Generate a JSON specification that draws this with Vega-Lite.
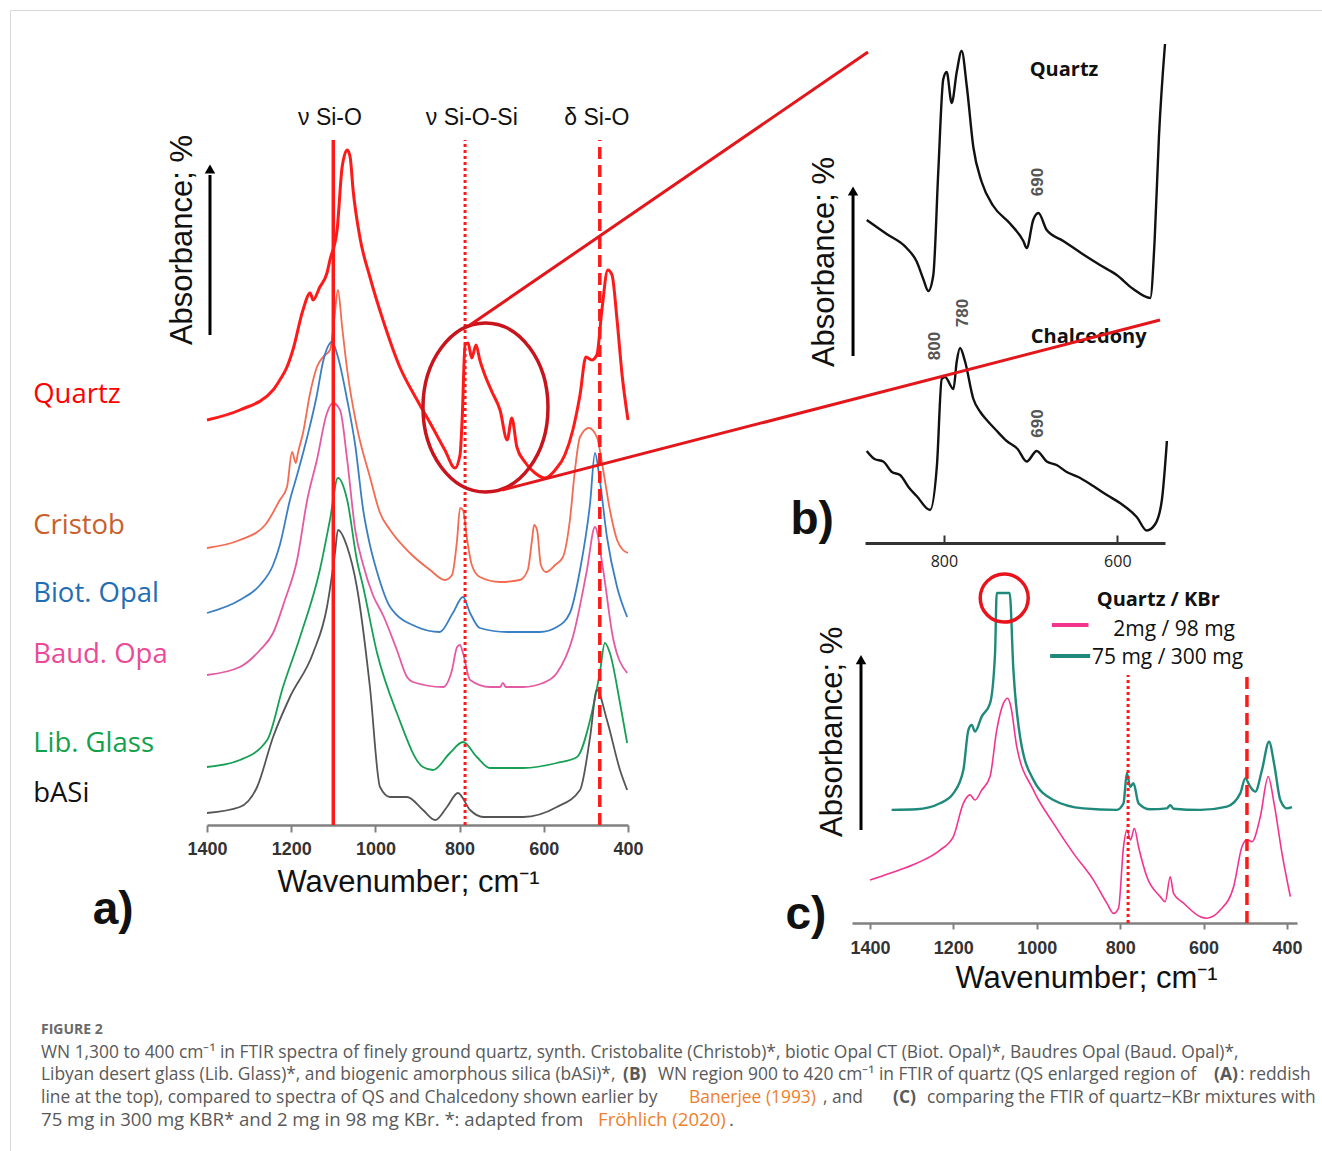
{
"$schema": "https://vega.github.io/schema/vega-lite/v6.json",
"width": 1312, "height": 1141,
"autosize": {"type": "none"},
"padding": {"left": 10, "top": 10, "right": 0, "bottom": 0},
"background": "white",
"config": {"view": {"stroke": "#d9d9d9", "strokeWidth": 1}, "axis": {"grid": false}},
"resolve": {"scale": {"x": "independent", "y": "independent", "color": "independent"}, "axis": {"x": "independent", "y": "independent"}},
"layer": [
{
"data": {"values": [
{"sample":"Cristob","wn":1400,"abs":27.7},{"sample":"Cristob","wn":1322,"abs":28.5},{"sample":"Cristob","wn":1262,"abs":30},{"sample":"Cristob","wn":1227,"abs":32.5},{"sample":"Cristob","wn":1210,"abs":33.8},{"sample":"Cristob","wn":1198,"abs":37.3},{"sample":"Cristob","wn":1189,"abs":36.2},{"sample":"Cristob","wn":1184,"abs":37.2},{"sample":"Cristob","wn":1172,"abs":39.2},{"sample":"Cristob","wn":1155,"abs":43.2},{"sample":"Cristob","wn":1139,"abs":45.8},{"sample":"Cristob","wn":1124.5,"abs":46.8},{"sample":"Cristob","wn":1108,"abs":47.5},{"sample":"Cristob","wn":1098,"abs":50.5},{"sample":"Cristob","wn":1089,"abs":53.5},{"sample":"Cristob","wn":1079,"abs":49.8},{"sample":"Cristob","wn":1067,"abs":45.5},{"sample":"Cristob","wn":1044,"abs":39.8},{"sample":"Cristob","wn":1013,"abs":34.8},{"sample":"Cristob","wn":989,"abs":31.2},{"sample":"Cristob","wn":965,"abs":29.5},{"sample":"Cristob","wn":918,"abs":27.2},{"sample":"Cristob","wn":870,"abs":25.5},{"sample":"Cristob","wn":835,"abs":24.5},{"sample":"Cristob","wn":818,"abs":25},{"sample":"Cristob","wn":806,"abs":28.5},{"sample":"Cristob","wn":799,"abs":31.7},{"sample":"Cristob","wn":792,"abs":31.5},{"sample":"Cristob","wn":782,"abs":28.5},{"sample":"Cristob","wn":771,"abs":26},{"sample":"Cristob","wn":752,"abs":24.8},{"sample":"Cristob","wn":704,"abs":24.3},{"sample":"Cristob","wn":657,"abs":24.5},{"sample":"Cristob","wn":638,"abs":25.5},{"sample":"Cristob","wn":628,"abs":28.5},{"sample":"Cristob","wn":623,"abs":30},{"sample":"Cristob","wn":616,"abs":29.5},{"sample":"Cristob","wn":607,"abs":26},{"sample":"Cristob","wn":595,"abs":25.3},{"sample":"Cristob","wn":573,"abs":26},{"sample":"Cristob","wn":554.5,"abs":26.8},{"sample":"Cristob","wn":538,"abs":30.5},{"sample":"Cristob","wn":526,"abs":35.5},{"sample":"Cristob","wn":514,"abs":38.8},{"sample":"Cristob","wn":493,"abs":39.7},{"sample":"Cristob","wn":474,"abs":38.8},{"sample":"Cristob","wn":459,"abs":35.5},{"sample":"Cristob","wn":443,"abs":31.5},{"sample":"Cristob","wn":426,"abs":28.5},{"sample":"Cristob","wn":412,"abs":27.5},{"sample":"Cristob","wn":400,"abs":27.2},
{"sample":"Biot. Opal","wn":1400,"abs":21.2},{"sample":"Biot. Opal","wn":1322,"abs":22.5},{"sample":"Biot. Opal","wn":1274,"abs":24},{"sample":"Biot. Opal","wn":1243,"abs":26},{"sample":"Biot. Opal","wn":1227,"abs":28},{"sample":"Biot. Opal","wn":1203,"abs":32.5},{"sample":"Biot. Opal","wn":1186,"abs":35},{"sample":"Biot. Opal","wn":1162,"abs":38.8},{"sample":"Biot. Opal","wn":1139,"abs":43},{"sample":"Biot. Opal","wn":1124.5,"abs":46.3},{"sample":"Biot. Opal","wn":1103,"abs":48.3},{"sample":"Biot. Opal","wn":1089,"abs":46.8},{"sample":"Biot. Opal","wn":1067,"abs":42.5},{"sample":"Biot. Opal","wn":1048,"abs":38},{"sample":"Biot. Opal","wn":1029,"abs":31.5},{"sample":"Biot. Opal","wn":1013,"abs":28},{"sample":"Biot. Opal","wn":996,"abs":25.3},{"sample":"Biot. Opal","wn":965,"abs":21.8},{"sample":"Biot. Opal","wn":901,"abs":19.8},{"sample":"Biot. Opal","wn":847,"abs":19.3},{"sample":"Biot. Opal","wn":816,"abs":21.2},{"sample":"Biot. Opal","wn":792,"abs":22.8},{"sample":"Biot. Opal","wn":775,"abs":21.2},{"sample":"Biot. Opal","wn":752,"abs":19.7},{"sample":"Biot. Opal","wn":687,"abs":19.3},{"sample":"Biot. Opal","wn":609,"abs":19.3},{"sample":"Biot. Opal","wn":569,"abs":19.8},{"sample":"Biot. Opal","wn":538,"abs":21.2},{"sample":"Biot. Opal","wn":514,"abs":25.5},{"sample":"Biot. Opal","wn":490,"abs":32.2},{"sample":"Biot. Opal","wn":478.5,"abs":37.2},{"sample":"Biot. Opal","wn":467,"abs":34.5},{"sample":"Biot. Opal","wn":450,"abs":28.8},{"sample":"Biot. Opal","wn":426,"abs":23.8},{"sample":"Biot. Opal","wn":402,"abs":20.8},
{"sample":"Baud. Opal","wn":1400,"abs":15},{"sample":"Baud. Opal","wn":1322,"abs":15.8},{"sample":"Baud. Opal","wn":1274,"abs":17.5},{"sample":"Baud. Opal","wn":1243,"abs":19.2},{"sample":"Baud. Opal","wn":1215,"abs":22.5},{"sample":"Baud. Opal","wn":1186,"abs":26.5},{"sample":"Baud. Opal","wn":1162,"abs":32.5},{"sample":"Baud. Opal","wn":1139,"abs":36.5},{"sample":"Baud. Opal","wn":1115,"abs":41.2},{"sample":"Baud. Opal","wn":1101,"abs":42.2},{"sample":"Baud. Opal","wn":1084,"abs":41.5},{"sample":"Baud. Opal","wn":1067,"abs":36.5},{"sample":"Baud. Opal","wn":1048,"abs":29.5},{"sample":"Baud. Opal","wn":1029,"abs":26},{"sample":"Baud. Opal","wn":1006,"abs":23},{"sample":"Baud. Opal","wn":982,"abs":21},{"sample":"Baud. Opal","wn":949,"abs":17.5},{"sample":"Baud. Opal","wn":925,"abs":14.8},{"sample":"Baud. Opal","wn":911,"abs":14.3},{"sample":"Baud. Opal","wn":839,"abs":13.8},{"sample":"Baud. Opal","wn":818,"abs":15.5},{"sample":"Baud. Opal","wn":806,"abs":17.8},{"sample":"Baud. Opal","wn":799,"abs":18},{"sample":"Baud. Opal","wn":792,"abs":17.2},{"sample":"Baud. Opal","wn":775,"abs":14.5},{"sample":"Baud. Opal","wn":728,"abs":13.8},{"sample":"Baud. Opal","wn":704,"abs":13.8},{"sample":"Baud. Opal","wn":697,"abs":14.2},{"sample":"Baud. Opal","wn":690,"abs":13.8},{"sample":"Baud. Opal","wn":649,"abs":13.8},{"sample":"Baud. Opal","wn":602,"abs":14.2},{"sample":"Baud. Opal","wn":569,"abs":15.2},{"sample":"Baud. Opal","wn":531,"abs":18.8},{"sample":"Baud. Opal","wn":497.5,"abs":25.5},{"sample":"Baud. Opal","wn":478.5,"abs":29.8},{"sample":"Baud. Opal","wn":459,"abs":25.5},{"sample":"Baud. Opal","wn":436,"abs":18.8},{"sample":"Baud. Opal","wn":402,"abs":15.2},
{"sample":"Lib. Glass","wn":1400,"abs":5.8},{"sample":"Lib. Glass","wn":1322,"abs":6.5},{"sample":"Lib. Glass","wn":1257,"abs":8.5},{"sample":"Lib. Glass","wn":1219.5,"abs":13.8},{"sample":"Lib. Glass","wn":1179,"abs":18.8},{"sample":"Lib. Glass","wn":1132,"abs":25.5},{"sample":"Lib. Glass","wn":1108,"abs":30.5},{"sample":"Lib. Glass","wn":1089,"abs":34.7},{"sample":"Lib. Glass","wn":1067,"abs":32.5},{"sample":"Lib. Glass","wn":1044,"abs":26.5},{"sample":"Lib. Glass","wn":1029,"abs":23.8},{"sample":"Lib. Glass","wn":996,"abs":17.2},{"sample":"Lib. Glass","wn":949,"abs":11.2},{"sample":"Lib. Glass","wn":887,"abs":5.8},{"sample":"Lib. Glass","wn":863,"abs":5.5},{"sample":"Lib. Glass","wn":823,"abs":7.2},{"sample":"Lib. Glass","wn":792,"abs":8.3},{"sample":"Lib. Glass","wn":759,"abs":6.8},{"sample":"Lib. Glass","wn":728,"abs":5.7},{"sample":"Lib. Glass","wn":649,"abs":5.7},{"sample":"Lib. Glass","wn":569,"abs":6.2},{"sample":"Lib. Glass","wn":521,"abs":6.8},{"sample":"Lib. Glass","wn":490,"abs":10.5},{"sample":"Lib. Glass","wn":467,"abs":15.2},{"sample":"Lib. Glass","wn":455,"abs":18.2},{"sample":"Lib. Glass","wn":443,"abs":17.2},{"sample":"Lib. Glass","wn":419,"abs":12.2},{"sample":"Lib. Glass","wn":402,"abs":8.2},
{"sample":"bASi","wn":1400,"abs":1.2},{"sample":"bASi","wn":1322,"abs":1.8},{"sample":"bASi","wn":1281,"abs":3.8},{"sample":"bASi","wn":1243,"abs":8.8},{"sample":"bASi","wn":1203,"abs":12.8},{"sample":"bASi","wn":1148,"abs":17.2},{"sample":"bASi","wn":1115,"abs":21.8},{"sample":"bASi","wn":1096,"abs":27.2},{"sample":"bASi","wn":1089,"abs":29.5},{"sample":"bASi","wn":1067,"abs":27.8},{"sample":"bASi","wn":1044,"abs":23.8},{"sample":"bASi","wn":1013,"abs":13.8},{"sample":"bASi","wn":989,"abs":3.8},{"sample":"bASi","wn":965,"abs":2.8},{"sample":"bASi","wn":925,"abs":2.8},{"sample":"bASi","wn":887,"abs":1.5},{"sample":"bASi","wn":858,"abs":0.5},{"sample":"bASi","wn":830,"abs":1.8},{"sample":"bASi","wn":804,"abs":3.2},{"sample":"bASi","wn":775,"abs":1.5},{"sample":"bASi","wn":744,"abs":0.8},{"sample":"bASi","wn":649,"abs":0.8},{"sample":"bASi","wn":569,"abs":1.8},{"sample":"bASi","wn":514,"abs":3.5},{"sample":"bASi","wn":490,"abs":8.8},{"sample":"bASi","wn":474,"abs":13.5},{"sample":"bASi","wn":450,"abs":10.5},{"sample":"bASi","wn":419,"abs":5.5},{"sample":"bASi","wn":402,"abs":3.5}
]},
"mark": {"type": "line", "strokeWidth": 1.8, "interpolate": "monotone"},
"encoding": {
"x": {"field": "wn", "type": "quantitative", "scale": {"domain": [1400, 400], "range": [197, 618], "nice": false, "zero": false},
 "axis": {"orient": "bottom", "offset": -326, "values": [1400, 1200, 1000, 800, 600, 400], "format": "d", "domainColor": "#808080", "domainWidth": 2.5, "tickColor": "#808080", "tickWidth": 2, "tickSize": 7, "labelFont": "Liberation Sans", "labelFontSize": 18, "labelFontWeight": "bold", "labelColor": "#333333", "labelPadding": 8, "labelFlush": false, "labelOverlap": false, "grid": false, "title": "Wavenumber; cm⁻¹", "titleFont": "Liberation Sans", "titleFontSize": 31, "titleFontWeight": "normal", "titleColor": "#111111", "titleX": 398, "titleY": 66, "titleBaseline": "alphabetic", "titleAlign": "center"}},
"y": {"field": "abs", "type": "quantitative", "scale": {"domain": [0, 70], "range": [815, 115], "nice": false, "zero": false}, "axis": null},
"color": {"field": "sample", "type": "nominal", "scale": {"domain": ["Cristob", "Biot. Opal", "Baud. Opal", "Lib. Glass", "bASi"], "range": ["#f36b50", "#3a7fc4", "#e45aa3", "#17a055", "#555555"]}, "legend": null}
}
},
{
"data": {"values": [
{"wn":1400,"abs":40.5},{"wn":1322,"abs":41.5},{"wn":1243,"abs":43.5},{"wn":1227,"abs":44.5},{"wn":1210,"abs":45.8},{"wn":1196,"abs":47.5},{"wn":1172,"abs":51.5},{"wn":1155,"abs":53.2},{"wn":1148,"abs":52.5},{"wn":1132,"abs":53.8},{"wn":1115,"abs":55.2},{"wn":1108,"abs":56.5},{"wn":1091,"abs":59.5},{"wn":1079,"abs":65.8},{"wn":1067,"abs":67.5},{"wn":1060,"abs":66.8},{"wn":1053,"abs":63.5},{"wn":1037,"abs":58.8},{"wn":1013,"abs":54.8},{"wn":982,"abs":50.5},{"wn":942,"abs":45.8},{"wn":901,"abs":42.5},{"wn":870,"abs":40.2},{"wn":835,"abs":37.5},{"wn":811,"abs":35.7},{"wn":799,"abs":37},{"wn":794,"abs":40.5},{"wn":787,"abs":48},{"wn":780,"abs":48.2},{"wn":771,"abs":46.7},{"wn":761,"abs":48},{"wn":752,"abs":46.5},{"wn":740,"abs":45},{"wn":723,"abs":43.3},{"wn":704,"abs":41.5},{"wn":687,"abs":38.5},{"wn":676,"abs":40.7},{"wn":664,"abs":37.8},{"wn":645,"abs":36.3},{"wn":621,"abs":35.2},{"wn":597,"abs":34.7},{"wn":573,"abs":35.5},{"wn":550,"abs":37},{"wn":531,"abs":39.5},{"wn":514,"abs":43},{"wn":500,"abs":46.8},{"wn":486,"abs":46.5},{"wn":474,"abs":47},{"wn":462,"abs":51.5},{"wn":448,"abs":55.5},{"wn":438,"abs":55},{"wn":426,"abs":50.5},{"wn":414,"abs":45},{"wn":400,"abs":40.5}
]},
"mark": {"type": "line", "strokeWidth": 3, "color": "#ff1a1a", "interpolate": "monotone"},
"encoding": {
"x": {"field": "wn", "type": "quantitative", "scale": {"domain": [1400, 400], "range": [197, 618], "nice": false, "zero": false}, "axis": null},
"y": {"field": "abs", "type": "quantitative", "scale": {"domain": [0, 70], "range": [815, 115], "nice": false, "zero": false}, "axis": null}
}
},
{
"data": {"values": [{"band": "ν Si-O", "wn": 1100}]},
"mark": {"type": "rule", "color": "#ff1a1a", "strokeWidth": 3.5},
"encoding": {
"x": {"field": "wn", "type": "quantitative", "scale": {"domain": [1400, 400], "range": [197, 618], "nice": false, "zero": false}, "axis": null},
"y": {"datum": 0, "type": "quantitative", "scale": {"domain": [0, 70], "range": [815, 115], "nice": false, "zero": false}, "axis": null},
"y2": {"datum": 68.5}
}
},
{
"data": {"values": [{"band": "ν Si-O-Si", "wn": 787}]},
"mark": {"type": "rule", "color": "#ff1a1a", "strokeWidth": 3, "strokeDash": [3, 3]},
"encoding": {
"x": {"field": "wn", "type": "quantitative", "scale": {"domain": [1400, 400], "range": [197, 618], "nice": false, "zero": false}, "axis": null},
"y": {"datum": 0, "type": "quantitative", "scale": {"domain": [0, 70], "range": [815, 115], "nice": false, "zero": false}, "axis": null},
"y2": {"datum": 68.5}
}
},
{
"data": {"values": [{"band": "δ Si-O", "wn": 467}]},
"mark": {"type": "rule", "color": "#ff1a1a", "strokeWidth": 3.5, "strokeDash": [12, 6]},
"encoding": {
"x": {"field": "wn", "type": "quantitative", "scale": {"domain": [1400, 400], "range": [197, 618], "nice": false, "zero": false}, "axis": null},
"y": {"datum": 0, "type": "quantitative", "scale": {"domain": [0, 70], "range": [815, 115], "nice": false, "zero": false}, "axis": null},
"y2": {"datum": 68.5}
}
},
{
"data": {"values": [{"band": "ν Si-O", "wn": 1108, "abs": 70.7}, {"band": "ν Si-O-Si", "wn": 771, "abs": 70.7}, {"band": "δ Si-O", "wn": 474, "abs": 70.7}]},
"mark": {"type": "text", "font": "Liberation Sans", "fontSize": 23, "color": "#111111", "align": "center", "baseline": "middle"},
"encoding": {
"x": {"field": "wn", "type": "quantitative", "scale": {"domain": [1400, 400], "range": [197, 618], "nice": false, "zero": false}, "axis": null},
"y": {"field": "abs", "type": "quantitative", "scale": {"domain": [0, 70], "range": [815, 115], "nice": false, "zero": false}, "axis": null},
"text": {"field": "band"}
}
},
{
"data": {"values": [{"region": "quartz 900-420", "wn": 738.5, "abs": 41.75}]},
"mark": {"type": "point", "shape": "M-1,0A1,1.352,0,1,0,1,0A1,1.352,0,1,0,-1,0Z", "size": 15625, "filled": false, "stroke": "#c8141c", "strokeWidth": 3.5, "opacity": 1},
"encoding": {
"x": {"field": "wn", "type": "quantitative", "scale": {"domain": [1400, 400], "range": [197, 618], "nice": false, "zero": false}, "axis": null},
"y": {"field": "abs", "type": "quantitative", "scale": {"domain": [0, 70], "range": [815, 115], "nice": false, "zero": false}, "axis": null}
}
},
{
"data": {"values": [{"label": "Quartz", "wn": 1813, "abs": 43}, {"label": "Cristob", "wn": 1813, "abs": 29.9}, {"label": "Biot. Opal", "wn": 1813, "abs": 23.1}, {"label": "Baud. Opa", "wn": 1813, "abs": 17}, {"label": "Lib. Glass", "wn": 1813, "abs": 8.1}, {"label": "bASi", "wn": 1813, "abs": 3.1}]},
"mark": {"type": "text", "font": "Open Sans", "fontSize": 27.5, "align": "left", "baseline": "middle"},
"encoding": {
"x": {"field": "wn", "type": "quantitative", "scale": {"domain": [1400, 400], "range": [197, 618], "nice": false, "zero": false}, "axis": null},
"y": {"field": "abs", "type": "quantitative", "scale": {"domain": [0, 70], "range": [815, 115], "nice": false, "zero": false}, "axis": null},
"text": {"field": "label"},
"color": {"field": "label", "type": "nominal", "scale": {"domain": ["Quartz", "Cristob", "Biot. Opal", "Baud. Opa", "Lib. Glass", "bASi"], "range": ["#ff0000", "#c8602c", "#1f6db3", "#ea4a97", "#12a14b", "#111111"]}, "legend": null}
}
},
{
"data": {"values": [{"label": "Absorbance; %", "wn": 1457, "abs": 58.5}]},
"mark": {"type": "text", "font": "Liberation Sans", "fontSize": 31, "angle": 270, "align": "center", "baseline": "middle", "color": "#111111"},
"encoding": {
"x": {"field": "wn", "type": "quantitative", "scale": {"domain": [1400, 400], "range": [197, 618], "nice": false, "zero": false}, "axis": null},
"y": {"field": "abs", "type": "quantitative", "scale": {"domain": [0, 70], "range": [815, 115], "nice": false, "zero": false}, "axis": null},
"text": {"field": "label"}
}
},
{
"data": {"values": [{"label": "a)", "wn": 1623, "abs": -8.5}]},
"mark": {"type": "text", "font": "Liberation Sans", "fontSize": 46, "fontWeight": "bold", "align": "center", "baseline": "middle", "color": "#111111"},
"encoding": {
"x": {"field": "wn", "type": "quantitative", "scale": {"domain": [1400, 400], "range": [197, 618], "nice": false, "zero": false}, "axis": null},
"y": {"field": "abs", "type": "quantitative", "scale": {"domain": [0, 70], "range": [815, 115], "nice": false, "zero": false}, "axis": null},
"text": {"field": "label"}
}
},
{
"data": {"values": [{"wn": 1392.9, "abs": 49, "abs2": 65}]},
"mark": {"type": "rule", "color": "#000000", "strokeWidth": 3},
"encoding": {
"x": {"field": "wn", "type": "quantitative", "scale": {"domain": [1400, 400], "range": [197, 618], "nice": false, "zero": false}, "axis": null},
"y": {"field": "abs", "type": "quantitative", "scale": {"domain": [0, 70], "range": [815, 115], "nice": false, "zero": false}, "axis": null},
"y2": {"field": "abs2"}
}
},
{
"data": {"values": [{"wn": 1392.9, "abs": 65.6}]},
"mark": {"type": "point", "shape": "triangle-up", "size": 110, "filled": true, "color": "#000000", "opacity": 1},
"encoding": {
"x": {"field": "wn", "type": "quantitative", "scale": {"domain": [1400, 400], "range": [197, 618], "nice": false, "zero": false}, "axis": null},
"y": {"field": "abs", "type": "quantitative", "scale": {"domain": [0, 70], "range": [815, 115], "nice": false, "zero": false}, "axis": null}
}
},
{
"data": {"values": [
{"sample":"Quartz","wn":889,"abs":64.6},{"sample":"Quartz","wn":866,"abs":61.8},{"sample":"Quartz","wn":843,"abs":59},{"sample":"Quartz","wn":831.4,"abs":56.3},{"sample":"Quartz","wn":823.8,"abs":52.8},{"sample":"Quartz","wn":818,"abs":50.4},{"sample":"Quartz","wn":812.2,"abs":53.6},{"sample":"Quartz","wn":806.5,"abs":74.2},{"sample":"Quartz","wn":800.7,"abs":92.8},{"sample":"Quartz","wn":796.8,"abs":94.2},{"sample":"Quartz","wn":791,"abs":88},{"sample":"Quartz","wn":785.2,"abs":94.2},{"sample":"Quartz","wn":779.5,"abs":98.4},{"sample":"Quartz","wn":773.7,"abs":91.5},{"sample":"Quartz","wn":766,"abs":79.1},{"sample":"Quartz","wn":756.4,"abs":72.2},{"sample":"Quartz","wn":743,"abs":67.4},{"sample":"Quartz","wn":723.8,"abs":63.9},{"sample":"Quartz","wn":708.4,"abs":60.4},{"sample":"Quartz","wn":704.5,"abs":59},{"sample":"Quartz","wn":697,"abs":64.6},{"sample":"Quartz","wn":691,"abs":66},{"sample":"Quartz","wn":681.4,"abs":62.6},{"sample":"Quartz","wn":662.3,"abs":60.4},{"sample":"Quartz","wn":639.2,"abs":57.7},{"sample":"Quartz","wn":620,"abs":55.6},{"sample":"Quartz","wn":600.7,"abs":53.6},{"sample":"Quartz","wn":581.6,"abs":50.8},{"sample":"Quartz","wn":562,"abs":49},{"sample":"Quartz","wn":557,"abs":60.4},{"sample":"Quartz","wn":552,"abs":81.2},{"sample":"Quartz","wn":545,"abs":99.8},
{"sample":"Chalcedony","wn":889,"abs":18.4},{"sample":"Chalcedony","wn":880,"abs":16.8},{"sample":"Chalcedony","wn":870,"abs":16.3},{"sample":"Chalcedony","wn":860,"abs":14.2},{"sample":"Chalcedony","wn":850.6,"abs":13.6},{"sample":"Chalcedony","wn":840,"abs":11},{"sample":"Chalcedony","wn":831.4,"abs":9.4},{"sample":"Chalcedony","wn":816,"abs":6.6},{"sample":"Chalcedony","wn":808,"abs":15.6},{"sample":"Chalcedony","wn":802.5,"abs":32.8},{"sample":"Chalcedony","wn":798.7,"abs":33.2},{"sample":"Chalcedony","wn":789,"abs":30.8},{"sample":"Chalcedony","wn":785.2,"abs":36.3},{"sample":"Chalcedony","wn":781.4,"abs":39},{"sample":"Chalcedony","wn":775.6,"abs":36.3},{"sample":"Chalcedony","wn":766,"abs":28.8},{"sample":"Chalcedony","wn":758,"abs":26.2},{"sample":"Chalcedony","wn":750.6,"abs":24.6},{"sample":"Chalcedony","wn":740,"abs":22.6},{"sample":"Chalcedony","wn":727.6,"abs":20.4},{"sample":"Chalcedony","wn":715,"abs":18.8},{"sample":"Chalcedony","wn":704.5,"abs":16.3},{"sample":"Chalcedony","wn":693,"abs":18.4},{"sample":"Chalcedony","wn":681.4,"abs":16.3},{"sample":"Chalcedony","wn":670,"abs":15.6},{"sample":"Chalcedony","wn":658.4,"abs":14.2},{"sample":"Chalcedony","wn":645,"abs":13.2},{"sample":"Chalcedony","wn":627.7,"abs":11.4},{"sample":"Chalcedony","wn":612,"abs":9.6},{"sample":"Chalcedony","wn":597,"abs":8},{"sample":"Chalcedony","wn":577.6,"abs":5.2},{"sample":"Chalcedony","wn":566,"abs":2.5},{"sample":"Chalcedony","wn":556.2,"abs":3.8},{"sample":"Chalcedony","wn":548.6,"abs":8.6},{"sample":"Chalcedony","wn":542.8,"abs":20.4}
]},
"mark": {"type": "line", "strokeWidth": 2.4, "color": "#111111", "interpolate": "monotone"},
"encoding": {
"x": {"field": "wn", "type": "quantitative", "scale": {"domain": [891, 545], "range": [855, 1155], "nice": false, "zero": false},
 "axis": {"orient": "bottom", "offset": -608, "values": [800, 600], "format": "d", "domainColor": "#333333", "domainWidth": 3, "tickColor": "#333333", "tickWidth": 2, "tickSize": -8, "labelFont": "Open Sans", "labelFontSize": 16, "labelColor": "#222222", "labelPadding": 18, "labelFlush": false, "grid": false, "title": null}},
"y": {"field": "abs", "type": "quantitative", "scale": {"domain": [0, 100], "range": [533, 33], "nice": false, "zero": false}, "axis": null},
"detail": {"field": "sample"}
}
},
{
"data": {"values": [{"label": "Quartz", "wn": 661.5, "abs": 94.6}, {"label": "Chalcedony", "wn": 633, "abs": 41.2}]},
"mark": {"type": "text", "font": "Open Sans", "fontSize": 20, "fontWeight": "bold", "align": "center", "baseline": "middle", "color": "#111111"},
"encoding": {
"x": {"field": "wn", "type": "quantitative", "scale": {"domain": [891, 545], "range": [855, 1155], "nice": false, "zero": false}, "axis": null},
"y": {"field": "abs", "type": "quantitative", "scale": {"domain": [0, 100], "range": [533, 33], "nice": false, "zero": false}, "axis": null},
"text": {"field": "label"}
}
},
{
"data": {"values": [{"peak": "690", "wn": 691, "abs": 72.2}, {"peak": "800", "wn": 810.3, "abs": 39.4}, {"peak": "780", "wn": 777.6, "abs": 46}, {"peak": "690", "wn": 691, "abs": 23.9}]},
"mark": {"type": "text", "font": "Liberation Sans", "fontSize": 17, "fontWeight": "bold", "angle": 270, "align": "center", "baseline": "middle", "color": "#555555"},
"encoding": {
"x": {"field": "wn", "type": "quantitative", "scale": {"domain": [891, 545], "range": [855, 1155], "nice": false, "zero": false}, "axis": null},
"y": {"field": "abs", "type": "quantitative", "scale": {"domain": [0, 100], "range": [533, 33], "nice": false, "zero": false}, "axis": null},
"text": {"field": "peak"}
}
},
{
"data": {"values": [{"label": "Absorbance; %", "wn": 937.1, "abs": 56.2}]},
"mark": {"type": "text", "font": "Liberation Sans", "fontSize": 31, "angle": 270, "align": "center", "baseline": "middle", "color": "#111111"},
"encoding": {
"x": {"field": "wn", "type": "quantitative", "scale": {"domain": [891, 545], "range": [855, 1155], "nice": false, "zero": false}, "axis": null},
"y": {"field": "abs", "type": "quantitative", "scale": {"domain": [0, 100], "range": [533, 33], "nice": false, "zero": false}, "axis": null},
"text": {"field": "label"}
}
},
{
"data": {"values": [{"label": "b)", "wn": 952, "abs": 4.6}]},
"mark": {"type": "text", "font": "Liberation Sans", "fontSize": 46, "fontWeight": "bold", "align": "center", "baseline": "middle", "color": "#111111"},
"encoding": {
"x": {"field": "wn", "type": "quantitative", "scale": {"domain": [891, 545], "range": [855, 1155], "nice": false, "zero": false}, "axis": null},
"y": {"field": "abs", "type": "quantitative", "scale": {"domain": [0, 100], "range": [533, 33], "nice": false, "zero": false}, "axis": null},
"text": {"field": "label"}
}
},
{
"data": {"values": [{"wn": 904.8, "abs": 37.4, "abs2": 70}]},
"mark": {"type": "rule", "color": "#000000", "strokeWidth": 3},
"encoding": {
"x": {"field": "wn", "type": "quantitative", "scale": {"domain": [891, 545], "range": [855, 1155], "nice": false, "zero": false}, "axis": null},
"y": {"field": "abs", "type": "quantitative", "scale": {"domain": [0, 100], "range": [533, 33], "nice": false, "zero": false}, "axis": null},
"y2": {"field": "abs2"}
}
},
{
"data": {"values": [{"wn": 904.8, "abs": 70.4}]},
"mark": {"type": "point", "shape": "triangle-up", "size": 110, "filled": true, "color": "#000000", "opacity": 1},
"encoding": {
"x": {"field": "wn", "type": "quantitative", "scale": {"domain": [891, 545], "range": [855, 1155], "nice": false, "zero": false}, "axis": null},
"y": {"field": "abs", "type": "quantitative", "scale": {"domain": [0, 100], "range": [533, 33], "nice": false, "zero": false}, "axis": null}
}
},
{
"data": {"values": [
{"wn":1348,"abs":37.7},{"wn":1288,"abs":37.9},{"wn":1232,"abs":39.9},{"wn":1200,"abs":43.2},{"wn":1176,"abs":51},{"wn":1164,"abs":64.3},{"wn":1156,"abs":66},{"wn":1148,"abs":63.8},{"wn":1132,"abs":68.8},{"wn":1112,"abs":73.2},{"wn":1100,"abs":89.9},{"wn":1096,"abs":110},{"wn":1065,"abs":110},{"wn":1056,"abs":84.3},{"wn":1040,"abs":62.1},{"wn":1008,"abs":47.7},{"wn":960,"abs":41},{"wn":888,"abs":38.2},{"wn":808,"abs":37.7},{"wn":792,"abs":39.9},{"wn":784,"abs":49.9},{"wn":776,"abs":45.4},{"wn":768,"abs":46.6},{"wn":756,"abs":39.9},{"wn":728,"abs":37.9},{"wn":688,"abs":38.2},{"wn":680,"abs":39.3},{"wn":672,"abs":38.1},{"wn":608,"abs":37.7},{"wn":544,"abs":38.8},{"wn":512,"abs":43.2},{"wn":500,"abs":48.2},{"wn":488,"abs":45.4},{"wn":476,"abs":43.8},{"wn":460,"abs":51},{"wn":443,"abs":60.4},{"wn":431,"abs":53.2},{"wn":416,"abs":41},{"wn":400,"abs":38.2},{"wn":388,"abs":38.6}
]},
"mark": {"type": "line", "strokeWidth": 2.4, "color": "#1f8a7b", "interpolate": "monotone"},
"encoding": {
"x": {"field": "wn", "type": "quantitative", "scale": {"domain": [1443, 376], "range": [842, 1287], "nice": false, "zero": false},
 "axis": {"orient": "bottom", "offset": -228, "values": [1400, 1200, 1000, 800, 600, 400], "format": "d", "domainColor": "#808080", "domainWidth": 2.5, "tickColor": "#808080", "tickWidth": 2, "tickSize": 6, "labelFont": "Liberation Sans", "labelFontSize": 18, "labelFontWeight": "bold", "labelColor": "#333333", "labelPadding": 10, "labelFlush": false, "labelOverlap": false, "grid": false, "title": "Wavenumber; cm⁻¹", "titleFont": "Liberation Sans", "titleFontSize": 31, "titleFontWeight": "normal", "titleColor": "#111111", "titleX": 1076, "titleY": 64, "titleBaseline": "alphabetic", "titleAlign": "center"}},
"y": {"field": "abs", "type": "quantitative", "scale": {"domain": [0, 110], "range": [913, 583], "nice": false, "zero": false}, "axis": null}
}
},
{
"data": {"values": [
{"wn":1400,"abs":14.3},{"wn":1352,"abs":16.6},{"wn":1288,"abs":19.9},{"wn":1232,"abs":24.3},{"wn":1200,"abs":28.8},{"wn":1176,"abs":39.9},{"wn":1160,"abs":42.7},{"wn":1148,"abs":41},{"wn":1132,"abs":44.3},{"wn":1112,"abs":48.8},{"wn":1096,"abs":64.3},{"wn":1080,"abs":73.2},{"wn":1070,"abs":74.9},{"wn":1062,"abs":72.1},{"wn":1048,"abs":58.8},{"wn":1008,"abs":44.3},{"wn":960,"abs":33.2},{"wn":912,"abs":23.2},{"wn":864,"abs":14.3},{"wn":832,"abs":6.6},{"wn":816,"abs":3.2},{"wn":804,"abs":4.9},{"wn":792,"abs":25.4},{"wn":784,"abs":31},{"wn":775,"abs":27.7},{"wn":766,"abs":31.6},{"wn":756,"abs":25.4},{"wn":736,"abs":15.4},{"wn":704,"abs":8.8},{"wn":692,"abs":7.1},{"wn":680,"abs":15.4},{"wn":672,"abs":9.9},{"wn":648,"abs":6.6},{"wn":608,"abs":2.1},{"wn":592,"abs":1.6},{"wn":560,"abs":4.3},{"wn":528,"abs":12.1},{"wn":508,"abs":25.4},{"wn":496,"abs":27.7},{"wn":484,"abs":27.1},{"wn":464,"abs":35.4},{"wn":445,"abs":48.8},{"wn":431,"abs":39.9},{"wn":412,"abs":23.2},{"wn":392,"abs":8.8}
]},
"mark": {"type": "line", "strokeWidth": 1.6, "color": "#f2348f", "interpolate": "monotone"},
"encoding": {
"x": {"field": "wn", "type": "quantitative", "scale": {"domain": [1443, 376], "range": [842, 1287], "nice": false, "zero": false}, "axis": null},
"y": {"field": "abs", "type": "quantitative", "scale": {"domain": [0, 110], "range": [913, 583], "nice": false, "zero": false}, "axis": null}
}
},
{
"data": {"values": [{"band": "ν Si-O-Si", "wn": 781}]},
"mark": {"type": "rule", "color": "#ff1a1a", "strokeWidth": 3, "strokeDash": [3, 3]},
"encoding": {
"x": {"field": "wn", "type": "quantitative", "scale": {"domain": [1443, 376], "range": [842, 1287], "nice": false, "zero": false}, "axis": null},
"y": {"datum": 0, "type": "quantitative", "scale": {"domain": [0, 110], "range": [913, 583], "nice": false, "zero": false}, "axis": null},
"y2": {"datum": 82.7}
}
},
{
"data": {"values": [{"band": "δ Si-O", "wn": 496}]},
"mark": {"type": "rule", "color": "#ff1a1a", "strokeWidth": 3.5, "strokeDash": [12, 6]},
"encoding": {
"x": {"field": "wn", "type": "quantitative", "scale": {"domain": [1443, 376], "range": [842, 1287], "nice": false, "zero": false}, "axis": null},
"y": {"datum": 0, "type": "quantitative", "scale": {"domain": [0, 110], "range": [913, 583], "nice": false, "zero": false}, "axis": null},
"y2": {"datum": 82.7}
}
},
{
"data": {"values": [{"region": "saturated peak", "wn": 1078, "abs": 108.3}]},
"mark": {"type": "point", "shape": "circle", "size": 2304, "filled": false, "stroke": "#e8141c", "strokeWidth": 3.5, "opacity": 1},
"encoding": {
"x": {"field": "wn", "type": "quantitative", "scale": {"domain": [1443, 376], "range": [842, 1287], "nice": false, "zero": false}, "axis": null},
"y": {"field": "abs", "type": "quantitative", "scale": {"domain": [0, 110], "range": [913, 583], "nice": false, "zero": false}, "axis": null}
}
},
{
"data": {"values": [{"series": "2mg / 98 mg", "wn": 963.7, "wn2": 875.9, "abs": 99.3}, {"series": "75 mg / 300 mg", "wn": 968, "wn2": 872, "abs": 89}]},
"mark": {"type": "rule", "strokeWidth": 4},
"encoding": {
"x": {"field": "wn", "type": "quantitative", "scale": {"domain": [1443, 376], "range": [842, 1287], "nice": false, "zero": false}, "axis": null},
"x2": {"field": "wn2"},
"y": {"field": "abs", "type": "quantitative", "scale": {"domain": [0, 110], "range": [913, 583], "nice": false, "zero": false}, "axis": null},
"color": {"field": "series", "type": "nominal", "scale": {"domain": ["2mg / 98 mg", "75 mg / 300 mg"], "range": ["#f2348f", "#1f8a7b"]}, "legend": null}
}
},
{
"data": {"values": [{"series": "2mg / 98 mg", "wn": 816.6, "abs": 97.7}, {"series": "75 mg / 300 mg", "wn": 867.7, "abs": 88.3}]},
"mark": {"type": "text", "font": "Open Sans", "fontSize": 21, "align": "left", "baseline": "middle", "color": "#111111"},
"encoding": {
"x": {"field": "wn", "type": "quantitative", "scale": {"domain": [1443, 376], "range": [842, 1287], "nice": false, "zero": false}, "axis": null},
"y": {"field": "abs", "type": "quantitative", "scale": {"domain": [0, 110], "range": [913, 583], "nice": false, "zero": false}, "axis": null},
"text": {"field": "series"}
}
},
{
"data": {"values": [{"label": "Quartz / KBr", "wn": 708.6, "abs": 107.7}]},
"mark": {"type": "text", "font": "Open Sans", "fontSize": 20, "fontWeight": "bold", "align": "center", "baseline": "middle", "color": "#111111"},
"encoding": {
"x": {"field": "wn", "type": "quantitative", "scale": {"domain": [1443, 376], "range": [842, 1287], "nice": false, "zero": false}, "axis": null},
"y": {"field": "abs", "type": "quantitative", "scale": {"domain": [0, 110], "range": [913, 583], "nice": false, "zero": false}, "axis": null},
"text": {"field": "label"}
}
},
{
"data": {"values": [{"label": "Absorbance; %", "wn": 1488.6, "abs": 63.7}]},
"mark": {"type": "text", "font": "Liberation Sans", "fontSize": 31, "angle": 270, "align": "center", "baseline": "middle", "color": "#111111"},
"encoding": {
"x": {"field": "wn", "type": "quantitative", "scale": {"domain": [1443, 376], "range": [842, 1287], "nice": false, "zero": false}, "axis": null},
"y": {"field": "abs", "type": "quantitative", "scale": {"domain": [0, 110], "range": [913, 583], "nice": false, "zero": false}, "axis": null},
"text": {"field": "label"}
}
},
{
"data": {"values": [{"label": "c)", "wn": 1553.4, "abs": 2.7}]},
"mark": {"type": "text", "font": "Liberation Sans", "fontSize": 46, "fontWeight": "bold", "align": "center", "baseline": "middle", "color": "#111111"},
"encoding": {
"x": {"field": "wn", "type": "quantitative", "scale": {"domain": [1443, 376], "range": [842, 1287], "nice": false, "zero": false}, "axis": null},
"y": {"field": "abs", "type": "quantitative", "scale": {"domain": [0, 110], "range": [913, 583], "nice": false, "zero": false}, "axis": null},
"text": {"field": "label"}
}
},
{
"data": {"values": [{"wn": 1421.4, "abs": 31, "abs2": 86.5}]},
"mark": {"type": "rule", "color": "#000000", "strokeWidth": 3},
"encoding": {
"x": {"field": "wn", "type": "quantitative", "scale": {"domain": [1443, 376], "range": [842, 1287], "nice": false, "zero": false}, "axis": null},
"y": {"field": "abs", "type": "quantitative", "scale": {"domain": [0, 110], "range": [913, 583], "nice": false, "zero": false}, "axis": null},
"y2": {"field": "abs2"}
}
},
{
"data": {"values": [{"wn": 1421.4, "abs": 87.8}]},
"mark": {"type": "point", "shape": "triangle-up", "size": 110, "filled": true, "color": "#000000", "opacity": 1},
"encoding": {
"x": {"field": "wn", "type": "quantitative", "scale": {"domain": [1443, 376], "range": [842, 1287], "nice": false, "zero": false}, "axis": null},
"y": {"field": "abs", "type": "quantitative", "scale": {"domain": [0, 110], "range": [913, 583], "nice": false, "zero": false}, "axis": null}
}
},
{
"data": {"values": [{"wn": 775.3, "abs": 50, "wn2": -170.1, "abs2": 77.3}, {"wn": 699.3, "abs": 33.5, "wn2": -863.7, "abs2": 50.5}]},
"mark": {"type": "rule", "color": "#e3161b", "strokeWidth": 3},
"encoding": {
"x": {"field": "wn", "type": "quantitative", "scale": {"domain": [1400, 400], "range": [197, 618], "nice": false, "zero": false}, "axis": null},
"y": {"field": "abs", "type": "quantitative", "scale": {"domain": [0, 70], "range": [815, 115], "nice": false, "zero": false}, "axis": null},
"x2": {"field": "wn2"},
"y2": {"field": "abs2"}
}
},
{
"data": {"values": [{"t": "FIGURE 2", "line": 0, "pos": 0}]},
"mark": {"type": "text", "font": "Open Sans", "fontSize": 14, "fontWeight": "bold", "align": "left", "baseline": "middle", "color": "#6a6a6a"},
"encoding": {
"x": {"field": "pos", "type": "quantitative", "scale": {"domain": [0, 100], "range": [31, 1291], "nice": false, "zero": false}, "axis": null},
"y": {"field": "line", "type": "ordinal", "scale": {"type": "point", "domain": [0, 1, 2, 3, 4], "range": [1020, 1110], "padding": 0}, "axis": null},
"text": {"field": "t"}
}
},
{
"data": {"values": [
{"t": "WN 1,300 to 400 cm⁻¹ in FTIR spectra of finely ground quartz, synth. Cristobalite (Christob)*, biotic Opal CT (Biot. Opal)*, Baudres Opal (Baud. Opal)*,", "line": 1, "pos": 0},
{"t": "Libyan desert glass (Lib. Glass)*, and biogenic amorphous silica (bASi)*,", "line": 2, "pos": 0},
{"t": "WN region 900 to 420 cm⁻¹ in FTIR of quartz (QS enlarged region of", "line": 2, "pos": 48.97},
{"t": ": reddish", "line": 2, "pos": 95.16},
{"t": "line at the top), compared to spectra of QS and Chalcedony shown earlier by", "line": 3, "pos": 0},
{"t": ", and", "line": 3, "pos": 62.06},
{"t": "comparing the FTIR of quartz−KBr mixtures with", "line": 3, "pos": 70.32}
]},
"mark": {"type": "text", "font": "Open Sans", "fontSize": 17.4, "align": "left", "baseline": "middle", "color": "#595959"},
"encoding": {
"x": {"field": "pos", "type": "quantitative", "scale": {"domain": [0, 100], "range": [31, 1291], "nice": false, "zero": false}, "axis": null},
"y": {"field": "line", "type": "ordinal", "scale": {"type": "point", "domain": [0, 1, 2, 3, 4], "range": [1020, 1110], "padding": 0}, "axis": null},
"text": {"field": "t"}
}
},
{
"data": {"values": [
{"t": "75 mg in 300 mg KBR* and 2 mg in 98 mg KBr. *: adapted from", "line": 4, "pos": 0},
{"t": ".", "line": 4, "pos": 54.6}
]},
"mark": {"type": "text", "font": "Open Sans", "fontSize": 18.6, "align": "left", "baseline": "middle", "color": "#595959"},
"encoding": {
"x": {"field": "pos", "type": "quantitative", "scale": {"domain": [0, 100], "range": [31, 1291], "nice": false, "zero": false}, "axis": null},
"y": {"field": "line", "type": "ordinal", "scale": {"type": "point", "domain": [0, 1, 2, 3, 4], "range": [1020, 1110], "padding": 0}, "axis": null},
"text": {"field": "t"}
}
},
{
"data": {"values": [{"t": "(B)", "line": 2, "pos": 46.19}, {"t": "(A)", "line": 2, "pos": 93.1}, {"t": "(C)", "line": 3, "pos": 67.62}]},
"mark": {"type": "text", "font": "Open Sans", "fontSize": 17.4, "fontWeight": "bold", "align": "left", "baseline": "middle", "color": "#595959"},
"encoding": {
"x": {"field": "pos", "type": "quantitative", "scale": {"domain": [0, 100], "range": [31, 1291], "nice": false, "zero": false}, "axis": null},
"y": {"field": "line", "type": "ordinal", "scale": {"type": "point", "domain": [0, 1, 2, 3, 4], "range": [1020, 1110], "padding": 0}, "axis": null},
"text": {"field": "t"}
}
},
{
"data": {"values": [{"t": "Banerjee (1993)", "line": 3, "pos": 51.43}]},
"mark": {"type": "text", "font": "Open Sans", "fontSize": 17.4, "align": "left", "baseline": "middle", "color": "#f07f2d"},
"encoding": {
"x": {"field": "pos", "type": "quantitative", "scale": {"domain": [0, 100], "range": [31, 1291], "nice": false, "zero": false}, "axis": null},
"y": {"field": "line", "type": "ordinal", "scale": {"type": "point", "domain": [0, 1, 2, 3, 4], "range": [1020, 1110], "padding": 0}, "axis": null},
"text": {"field": "t"}
}
},
{
"data": {"values": [{"t": "Fröhlich (2020)", "line": 4, "pos": 44.21}]},
"mark": {"type": "text", "font": "Open Sans", "fontSize": 18.6, "align": "left", "baseline": "middle", "color": "#f07f2d"},
"encoding": {
"x": {"field": "pos", "type": "quantitative", "scale": {"domain": [0, 100], "range": [31, 1291], "nice": false, "zero": false}, "axis": null},
"y": {"field": "line", "type": "ordinal", "scale": {"type": "point", "domain": [0, 1, 2, 3, 4], "range": [1020, 1110], "padding": 0}, "axis": null},
"text": {"field": "t"}
}
}
]
}
